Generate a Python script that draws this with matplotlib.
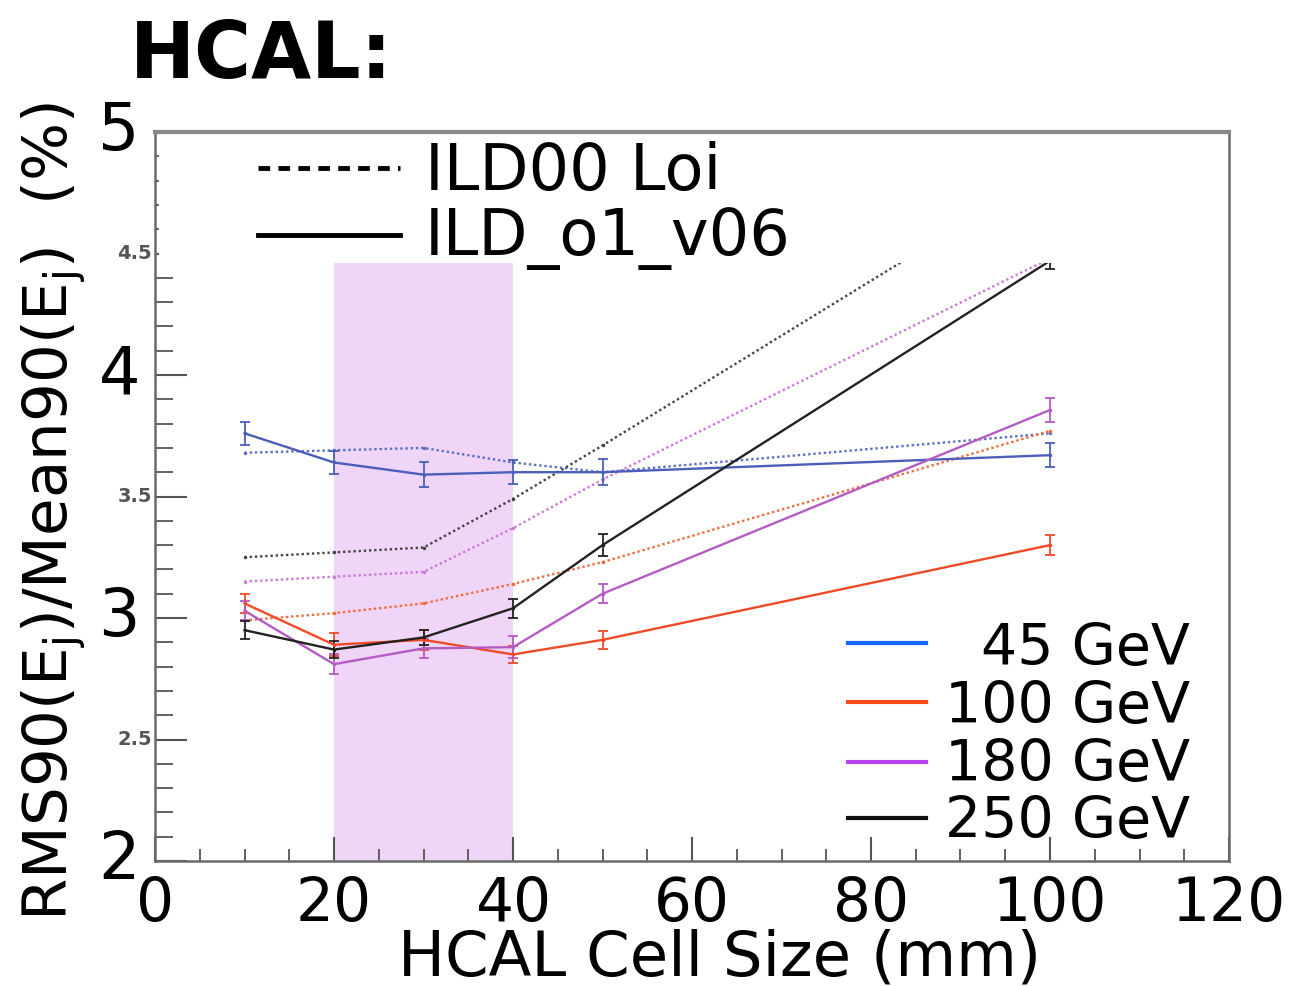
import matplotlib
matplotlib.use("Agg")
import matplotlib.pyplot as plt
from matplotlib.lines import Line2D
from matplotlib.patches import Rectangle

# HCAL cell sizes (mm)
cell_size = [10, 20, 30, 40, 50, 100]

energy_labels = ["45 GeV", "100 GeV", "180 GeV", "250 GeV"]

# ILD_o1_v06 (solid lines), RMS90/Mean90 in %
o1_45 = [3.76, 3.64, 3.59, 3.60, 3.60, 3.67]
o1_100 = [3.06, 2.89, 2.91, 2.85, 2.91, 3.30]
o1_180 = [3.03, 2.81, 2.875, 2.88, 3.10, 3.856]
o1_250 = [2.95, 2.87, 2.92, 3.04, 3.30, 4.47]

o1_45_err = [0.048, 0.046, 0.050, 0.050, 0.053, 0.050]
o1_100_err = [0.040, 0.048, 0.040, 0.036, 0.038, 0.041]
o1_180_err = [0.040, 0.040, 0.040, 0.045, 0.040, 0.048]
o1_250_err = [0.036, 0.034, 0.032, 0.039, 0.045, 0.035]

# ILD00 LoI (dotted lines)
loi_45 = [3.68, 3.69, 3.70, 3.64, 3.60, 3.76]
loi_100 = [2.99, 3.02, 3.06, 3.14, 3.23, 3.77]
loi_180 = [3.15, 3.17, 3.19, 3.37, 3.57, 4.48]
loi_250 = [3.25, 3.27, 3.29, 3.49, 3.71, 4.84]

# chosen cell size range (shaded)
band_x = [20, 40]
band_top = 4.46

W, H = 1306, 986


def fx(px):
    return px / W


def fy(py):
    return 1 - py / H


def plot_hcal(output_file="out.png"):
    plt.rcParams['font.family'] = ['DejaVu Sans']
    fig = plt.figure(figsize=(W / 100, H / 100), dpi=100)
    ax = fig.add_axes([fx(155), fy(861), fx(1229) - fx(155), fy(132) - fy(861)])

    ax.set_xlim(0, 120)
    ax.set_ylim(2, 5)

    # shaded band
    ax.fill_between(band_x, 2, band_top, color='#efd6f9', lw=0, zorder=0)

    line_cols = ['#4b5fb8', '#ef4a28', '#b35cc4', '#222222']
    dot_cols = ['#5b6ec4', '#f26a3a', '#c87ad4', '#444444']
    o1 = [o1_45, o1_100, o1_180, o1_250]
    o1_err = [o1_45_err, o1_100_err, o1_180_err, o1_250_err]
    loi = [loi_45, loi_100, loi_180, loi_250]

    for vals, col in zip(loi, dot_cols):
        ax.plot(cell_size, vals, color=col, lw=1.7, ls=(0, (1, 1.2)),
                marker='.', ms=3, zorder=1.5)
    for vals, errs, col in zip(o1, o1_err, line_cols):
        ax.errorbar(cell_size, vals, yerr=errs, color=col, lw=1.7,
                    elinewidth=1.3, capsize=3.5, capthick=1.3,
                    marker='.', ms=3, zorder=1.8)

    # white legend box covering upper part of the frame
    ax.add_patch(Rectangle((0.004, (band_top - 2) / 3), 0.995, 1, transform=ax.transAxes,
                           facecolor='white', edgecolor='none', zorder=2.2))

    # frame in ROOT style
    for s in ax.spines.values():
        s.set_color('#6a6a6a')
        s.set_linewidth(1.8)
    ax.spines['top'].set_color('#8a8a8a')
    ax.spines['top'].set_linewidth(3)

    ax.set_xticks([0, 20, 40, 60, 80, 100, 120])
    ax.set_xticks(range(0, 121, 5), minor=True)
    ax.set_yticks([2, 2.5, 3, 3.5, 4, 4.5, 5])
    ax.set_yticks([2 + 0.1 * i for i in range(31)], minor=True)
    ax.tick_params(axis='both', which='both', direction='in', color='#555555',
                   top=False, right=False)
    ax.tick_params(axis='x', which='major', length=17, width=1.5)
    ax.tick_params(axis='x', which='minor', length=9, width=1.3)
    ax.tick_params(axis='y', which='major', length=23, width=1.5)
    ax.tick_params(axis='y', which='minor', length=13, width=1.3)
    ax.tick_params(axis='x', labelsize=43, pad=10)
    ax.set_yticklabels([])

    # y labels: big black integers, small grey halves
    ytrans = ax.get_yaxis_transform()
    for v in [2, 3, 4, 5]:
        ax.text(-0.014, v, str(v), transform=ytrans, ha='right', va='center',
                fontsize=47, color='black')
    for v in [2.5, 3.5, 4.5]:
        ax.text(-0.003, v, str(v), transform=ytrans, ha='right', va='center',
                fontsize=14, color='#555555', fontweight='bold')

    fig.text(fx(720), fy(975), "HCAL Cell Size (mm)", ha='center', va='baseline',
             fontsize=45)
    fig.text(fx(54), fy(512), "RMS90(E$_{\\mathrm{j}}$)/Mean90(E$_{\\mathrm{j}}$)  (%)",
             rotation=90, ha='center', va='center', fontsize=44)
    fig.text(fx(130), fy(78), "HCAL:", ha='left', va='baseline', fontsize=56,
             fontweight='bold')

    # detector legend
    fig.add_artist(Line2D([fx(258), fx(400)], [fy(168), fy(168)], color='black',
                          lw=3.5, ls=(0, (2.4, 1.7))))
    fig.add_artist(Line2D([fx(258), fx(400)], [fy(235), fy(235)], color='black', lw=3.5))
    fig.text(fx(425), fy(190), "ILD00 Loi", ha='left', va='baseline', fontsize=46)
    fig.text(fx(425), fy(255), "ILD_o1_v06", ha='left', va='baseline', fontsize=46)

    # energy legend
    leg_cols = ['#1565ff', '#ff4a1c', '#b845ee', '#111111']
    line_y = [643, 702, 762, 818]
    text_y = [665, 723, 781, 838]
    for lab, col, ly, ty in zip(energy_labels, leg_cols, line_y, text_y):
        fig.add_artist(Line2D([fx(848), fx(926)], [fy(ly), fy(ly)], color=col, lw=3))
        fig.text(fx(1190), fy(ty), lab, ha='right', va='baseline', fontsize=41)

    fig.savefig(output_file, dpi=100)


def main():
    plot_hcal("out.png")


if __name__ == "__main__":
    main()
